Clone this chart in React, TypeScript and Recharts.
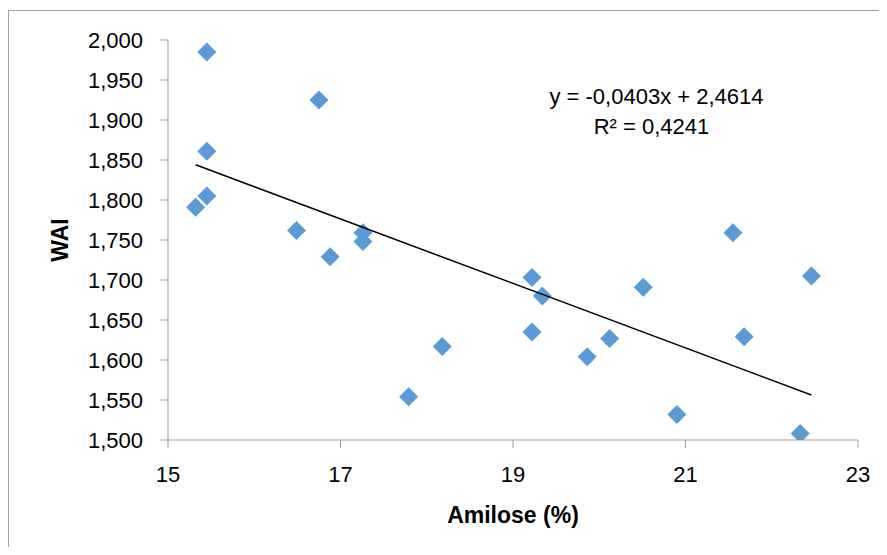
import React from "react";
import { ScatterChart, Scatter, XAxis, YAxis } from "recharts";

const amilose = [15.45, 16.75, 15.45, 15.45, 15.32, 16.49, 17.26, 17.26, 16.88, 19.22, 19.34, 17.79, 18.18, 19.22, 19.86, 20.12, 20.51, 20.9, 21.55, 21.68, 22.33, 22.46];
const wai = [1.985, 1.925, 1.861, 1.805, 1.791, 1.762, 1.759, 1.748, 1.729, 1.703, 1.68, 1.554, 1.617, 1.635, 1.604, 1.627, 1.691, 1.532, 1.759, 1.629, 1.508, 1.705];
const xTicks = [15, 17, 19, 21, 23];
const yTicks = [1.5, 1.55, 1.6, 1.65, 1.7, 1.75, 1.8, 1.85, 1.9, 1.95, 2.0];
const slope = -0.0403;
const intercept = 2.4614;
const equationText = "y = -0,0403x + 2,4614";
const r2Text = "R\u00B2 = 0,4241";
const xTitle = "Amilose (%)";
const yTitle = "WAI";

const points = amilose.map((x, i) => ({ x, y: wai[i] }));
const xMin = Math.min(...amilose);
const xMax = Math.max(...amilose);
const trend = [
  { x: xMin, y: slope * xMin + intercept },
  { x: xMax, y: slope * xMax + intercept },
];

const FONT = "'Liberation Sans', Arial, sans-serif";
const AXIS = "#a0a0a0";

const Diamond = (props: any) => {
  const { cx, cy } = props;
  if (cx == null || cy == null) return <g />;
  const r = 9.5;
  return (
    <polygon
      points={`${cx},${cy - r} ${cx + r},${cy} ${cx},${cy + r} ${cx - r},${cy}`}
      fill="#5B9BD5"
    />
  );
};

const fmt = (v: number) => v.toFixed(3).replace(".", ",");

export default function App() {
  const W = 871;
  const H = 539;
  return (
    <div style={{ position: "relative", width: W, height: H, overflow: "hidden", fontFamily: FONT }}>
      <div
        style={{
          position: "absolute",
          left: 0,
          top: 2,
          width: 1000,
          height: 1000,
          borderLeft: `1px solid ${AXIS}`,
          borderTop: `1px solid ${AXIS}`,
        }}
      />
      <div style={{ position: "absolute", left: 0, top: 0 }}>
        <ScatterChart width={W} height={H} margin={{ top: 32, right: 21, bottom: 0, left: 0 }}>
          <XAxis
            type="number"
            dataKey="x"
            domain={[15, 23]}
            ticks={xTicks}
            height={107}
            tickSize={8}
            tickMargin={18}
            stroke={AXIS}
            tick={{ fill: "#000", fontSize: 22, fontFamily: FONT }}
            allowDataOverflow
          />
          <YAxis
            type="number"
            dataKey="y"
            domain={[1.5, 2.0]}
            ticks={yTicks}
            width={160}
            tickSize={8}
            tickMargin={17}
            stroke={AXIS}
            tickFormatter={fmt}
            tick={{ fill: "#000", fontSize: 22, fontFamily: FONT }}
            allowDataOverflow
          />
          <Scatter data={points} shape={Diamond} isAnimationActive={false} />
          <Scatter
            data={trend}
            line={{ stroke: "#000", strokeWidth: 1.5 }}
            shape={() => <g />}
            isAnimationActive={false}
          />
        </ScatterChart>
      </div>
      <svg
        width={W}
        height={H}
        style={{ position: "absolute", left: 0, top: 0, pointerEvents: "none" }}
      >
        <text x={648.5} y={95.5} textAnchor="middle" fontSize={22} fontFamily={FONT} fill="#000">
          {equationText}
        </text>
        <text x={643.5} y={125.5} textAnchor="middle" fontSize={22} fontFamily={FONT} fill="#000">
          {r2Text}
        </text>
        <text
          transform="translate(60,232) rotate(-90)"
          x={0}
          y={0}
          textAnchor="middle"
          fontSize={23}
          fontWeight="bold"
          fontFamily={FONT}
          fill="#000"
        >
          {yTitle}
        </text>
        <text x={505} y={515} textAnchor="middle" fontSize={23} fontWeight="bold" fontFamily={FONT} fill="#000">
          {xTitle}
        </text>
      </svg>
    </div>
  );
}
